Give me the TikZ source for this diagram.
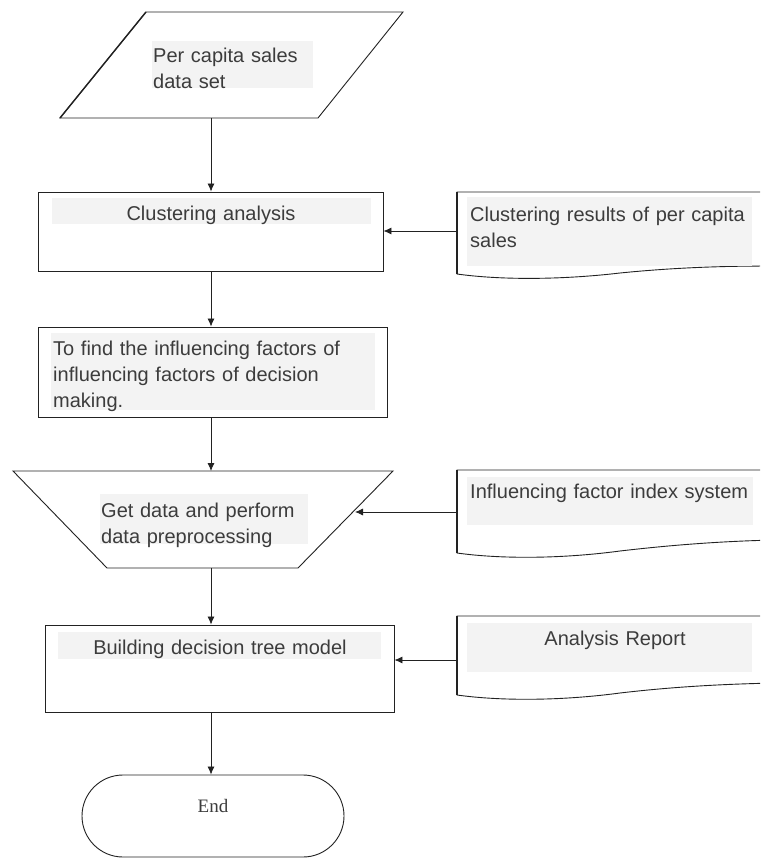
\documentclass[tikz,border=0pt]{standalone}
\usepackage{fontspec}
\setmainfont{Liberation Sans}
\newfontfamily\endfont{Liberation Serif}
\usetikzlibrary{arrows.meta,shapes.misc}
\definecolor{txtc}{HTML}{3C3C3C}
\definecolor{bgc}{HTML}{F3F3F3}
\definecolor{linec}{HTML}{222222}
\begin{document}
\begin{tikzpicture}[x=1pt,y=-1pt,
  shp/.style={draw=linec,line width=0.9pt,line join=miter},
  boxst/.style={draw=linec,line width=0.9pt,inner sep=0pt,fill=white},
  arr/.style={draw=linec,line width=0.8pt,-{Latex[length=8pt,width=7pt]}},
  txt/.style={font=\fontsize{20}{26}\selectfont,text=txtc,inner sep=0pt,align=left},
  ctxt/.style={font=\fontsize{20}{26}\selectfont,text=txtc,inner sep=0pt,align=center},
  bgfill/.style={fill=bgc}]
\clip (0,0) rectangle (760,859);
\fill[white] (0,0) rectangle (760,859);

% axis of the main column
\coordinate (ax) at (211,0);

% parallelogram (input)
\draw[shp] (146,12) -- (403,12) -- (318,118) -- (60,118) -- cycle;
\draw[linec,line width=1.4pt] (146,12) -- (60,118);
\coordinate (para-s) at (211,118);

% rectangles
\node[boxst,minimum width=345pt,minimum height=79pt] (box1) at (210.5,231.5) {};
\node[boxst,minimum width=349pt,minimum height=90pt] (box2) at (212.5,372) {};
\node[boxst,minimum width=349pt,minimum height=87pt] (box3) at (219.5,668.5) {};

% trapezoid
\draw[shp] (13,471) -- (393,471) -- (298,568) -- (107,568) -- cycle;
\coordinate (trap-n) at (211,471);
\coordinate (trap-s) at (211,568);
\coordinate (trap-e) at (355,512);

% terminal
\node[draw=linec,line width=0.9pt,rounded rectangle,minimum width=262pt,minimum height=82pt,inner sep=0pt] (end) at (213,816) {};

% documents
\draw[shp] (775,192) -- (457,192) -- (457,274) .. controls (500,280) and (560,280) .. (620,273) .. controls (680,267) and (730,266) .. (775,266);
\draw[linec,line width=1.6pt] (457,192) -- (457,274);
\coordinate (doc1-w) at (457,231);
\draw[shp] (775,470) -- (457,470) -- (457,553) .. controls (500,559) and (560,559) .. (620,551) .. controls (680,544) and (730,541) .. (775,540);
\draw[linec,line width=1.6pt] (457,470) -- (457,553);
\coordinate (doc2-w) at (457,512);
\draw[shp] (775,616) -- (457,616) -- (457,695) .. controls (500,701) and (560,701) .. (620,693) .. controls (680,686) and (730,684) .. (775,683);
\draw[linec,line width=1.6pt] (457,616) -- (457,695);
\coordinate (doc3-w) at (457,660);

% text backgrounds
\fill[bgfill] (152,41) rectangle (313,88);
\fill[bgfill] (52,198) rectangle (371,224);
\fill[bgfill] (467,197) rectangle (752,266);
\fill[bgfill] (51,333) rectangle (375,410);
\fill[bgfill] (100,494) rectangle (308,544);
\fill[bgfill] (467,477) rectangle (753,525);
\fill[bgfill] (58,632) rectangle (381,659);
\fill[bgfill] (467,623) rectangle (752,672);

% texts
\node[txt,text width=160pt,anchor=base west] (t-para) at (153,63) {Per capita sales\\data set};
\node[ctxt,text width=318pt,anchor=base] (t-box1) at (211,220) {Clustering analysis};
\node[txt,text width=285pt,anchor=base west] (t-doc1) at (470,221) {Clustering results of per capita\\sales};
\node[txt,text width=322pt,anchor=base west] (t-box2) at (53,355) {To find the influencing factors of\\influencing factors of decision\\making.};
\node[txt,text width=208pt,anchor=base west] (t-trap) at (101,517) {Get data and perform\\data preprocessing};
\node[txt,text width=285pt,anchor=base west] (t-doc2) at (470,498) {Influencing factor index system};
\node[ctxt,text width=322pt,anchor=base] (t-box3) at (220,654) {Building decision tree model};
\node[ctxt,text width=285pt,anchor=base] (t-doc3) at (615,645) {Analysis Report};
\node[font=\endfont\fontsize{19}{22}\selectfont,text=txtc,inner sep=0pt,anchor=base] (t-end) at (213,812) {End};

% connectors
\draw[arr] (para-s) -- (box1.north -| ax);
\draw[arr] (box1.south -| ax) -- (box2.north -| ax);
\draw[arr] (box2.south -| ax) -- (trap-n);
\draw[arr] (trap-s) -- (box3.north -| ax);
\draw[arr] (box3.south -| ax) -- (end.north -| ax);
\draw[arr] (doc1-w) -- (box1.east |- doc1-w);
\draw[arr] (doc2-w) -- (trap-e);
\draw[arr] (doc3-w) -- (box3.east |- doc3-w);
\end{tikzpicture}
\end{document}
